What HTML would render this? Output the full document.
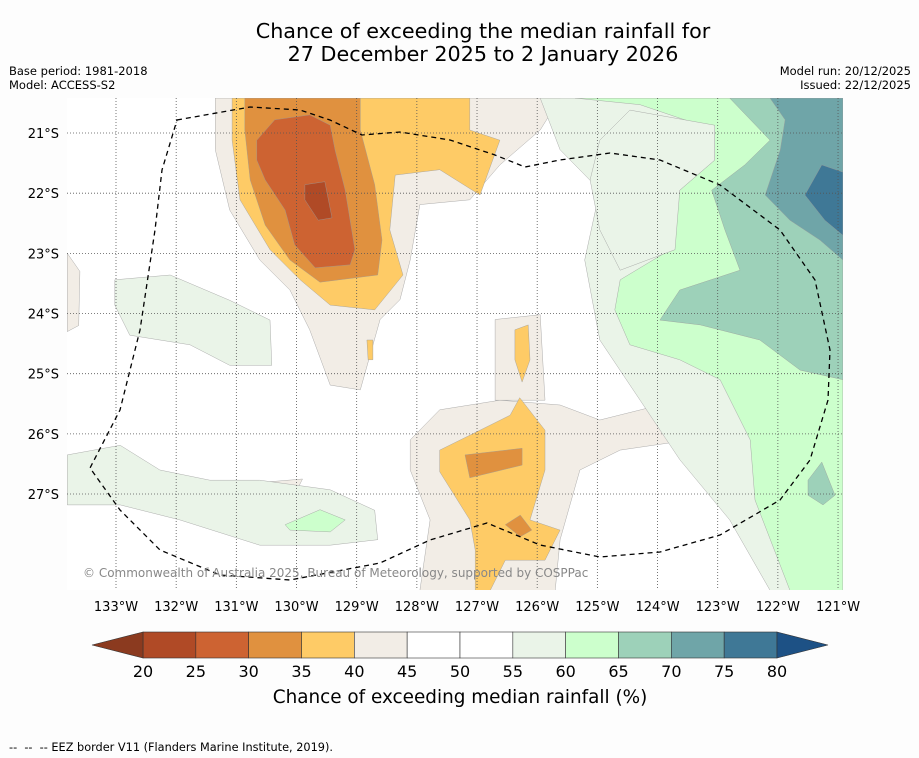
<!DOCTYPE html>
<html><head><meta charset="utf-8">
<style>
body{margin:0;background:#fdfdfd;font-family:"DejaVu Sans","Liberation Sans",sans-serif;}
svg{display:block}
</style></head>
<body>
<svg id="chart" width="919" height="758" xmlns="http://www.w3.org/2000/svg" style="font-family:'DejaVu Sans','Liberation Sans',sans-serif">
<rect width="919" height="758" fill="#fdfdfd"/>
<text x="483" y="38" font-size="20.7" text-anchor="middle" fill="#000">Chance of exceeding the median rainfall for</text>
<text x="483" y="61" font-size="20.7" text-anchor="middle" fill="#000">27 December 2025 to 2 January 2026</text>
<text x="9" y="75" font-size="11.5">Base period: 1981-2018</text>
<text x="9" y="89" font-size="11.5">Model: ACCESS-S2</text>
<text x="911" y="75" font-size="11.5" text-anchor="end">Model run: 20/12/2025</text>
<text x="911" y="89" font-size="11.5" text-anchor="end">Issued: 22/12/2025</text>
<defs><clipPath id="mapclip"><rect x="67" y="98" width="776" height="492"/></clipPath></defs>
<rect x="67" y="98" width="776" height="492" fill="#fff"/>
<g id="fills" clip-path="url(#mapclip)"></g>
<g id="grid"></g>
<path id="eez" fill="none" stroke="#000" stroke-width="1.3" stroke-dasharray="5,4" clip-path="url(#mapclip)"
 d="M177,120 L250,107 L300,110 L330,120 L362,135 L400,132 L450,140 L495,155 L525,167 L560,160 L610,153 L660,160 L720,185 L780,230 L815,280 L830,350 L828,400 L810,460 L780,500 L720,535 L660,552 L600,557 L540,545 L487,523 L430,540 L380,563 L290,580 L220,575 L160,550 L120,510 L90,468 L120,410 L140,330 L155,230 L162,170 Z"/>
<text x="83" y="577" font-size="12" fill="#888">© Commonwealth of Australia 2025, Bureau of Meteorology, supported by COSPPac</text>
<g id="axes"></g>
<g id="colorbar"></g>
<text x="460" y="703" font-size="18.4" text-anchor="middle">Chance of exceeding median rainfall (%)</text>
<text x="9" y="751" font-size="11.3">--&#160;&#160;--&#160;&#160;--&#160;EEZ border V11 (Flanders Marine Institute, 2019).</text>
</svg>
<script>
const lonTicks=[133,132,131,130,129,128,127,126,125,124,123,122,121];
const latTicks=[21,22,23,24,25,26,27];
const levels=[20,25,30,35,40,45,50,55,60,65,70,75,80];
const levelColors=["#b04a26","#cd6332","#e0913f","#fecb66","#f2ede6","#ffffff","#ffffff","#eaf4e8","#ccffcc","#9dd1b9","#6fa5a8","#3f7896"];
const NS="http://www.w3.org/2000/svg";
function xLon(lon){return 116+(133-lon)*60.17;}
function yLat(lat){return 133+(lat-21)*60.17;}
const bandLevel=[
[4,[131.35,20.42,125.62,20.42,125.95,20.95,126.62,21.53,127.12,22.11,127.95,22.19,128.11,23.11,128.28,23.77,128.61,24.10,128.94,25.27,129.44,25.19,129.78,24.27,130.11,23.61,130.61,23.11,131.11,22.28,131.35,21.28]],
[4,[128.11,26.10,127.62,25.60,126.62,25.44,125.62,25.52,124.96,25.77,123.96,25.52,123.38,25.69,123.46,26.10,124.62,26.27,125.29,26.60,125.62,27.76,125.70,28.60,127.95,28.60,127.78,27.43,128.11,26.60]],
[4,[126.70,24.10,125.95,24.02,125.87,25.44,126.70,25.44]],
[4,[133.81,23.0,133.6,23.3,133.62,24.2,133.81,24.3]],
[4,[130.5,26.8,129.9,26.75,130.0,26.95,130.6,26.95]],
[7,[125.95,20.42,120.92,20.42,120.92,28.60,122.13,28.60,122.80,27.43,123.63,26.43,124.29,25.44,124.96,24.44,125.21,23.11,124.96,21.95,125.62,21.28]],
[7,[133.02,23.44,132.10,23.36,131.11,23.78,130.44,24.11,130.41,24.86,131.11,24.86,131.77,24.52,132.77,24.36,133.02,23.86]],
[7,[133.81,26.35,132.93,26.19,132.27,26.60,131.44,26.77,130.61,26.77,129.44,26.93,128.70,27.27,128.65,27.76,129.44,27.85,130.61,27.85,131.94,27.43,132.93,27.18,133.81,27.18]],
[8,[125.37,20.42,122.80,20.42,122.05,21.12,120.92,21.45,120.92,28.60,121.80,28.60,122.38,27.10,122.46,26.10,122.96,25.10,123.63,24.77,124.46,24.52,124.71,23.94,124.62,23.44,123.79,22.94,123.63,21.95,123.05,21.45,123.05,20.95,124.29,20.53]],
[7,[124.46,20.62,123.05,20.87,123.05,21.45,123.63,21.95,123.71,22.94,124.62,23.28,124.96,22.61,125.12,21.78,124.96,21.12]],
[8,[130.19,27.51,129.61,27.26,129.19,27.43,129.44,27.63,130.11,27.60]],
[9,[122.80,20.42,120.92,20.42,120.92,25.10,121.63,24.94,122.30,24.44,123.29,24.19,123.96,24.11,123.63,23.61,122.63,23.28,122.88,22.61,123.10,21.95,122.55,21.53,122.13,21.12]],
[9,[121.50,26.77,121.27,26.47,121.05,27.02,121.25,27.18,121.50,27.02]],
[10,[122.13,20.42,120.92,20.42,120.92,23.11,121.30,22.78,121.80,22.45,122.21,22.03,121.96,21.28,121.88,20.78]],
[11,[121.55,22.03,121.27,21.53,120.92,21.65,120.92,22.70,121.22,22.45]],
[3,[131.07,20.42,127.12,20.42,127.12,20.95,126.62,21.12,126.95,22.03,127.62,21.61,128.36,21.70,128.45,22.61,128.23,23.36,128.70,23.94,129.44,23.86,129.94,23.44,130.44,22.94,130.94,22.11,131.07,21.12]],
[3,[127.62,26.27,126.95,25.94,126.45,25.69,126.29,25.40,125.87,25.94,125.87,26.60,126.12,27.43,125.62,27.60,125.87,28.10,126.53,28.10,126.78,28.60,127.03,28.60,127.03,27.93,127.12,27.43,127.62,26.63]],
[3,[126.37,24.27,126.15,24.19,126.12,24.77,126.25,25.14,126.37,24.77]],
[3,[128.83,24.44,128.73,24.44,128.73,24.77,128.81,24.77]],
[2,[130.86,20.42,128.94,20.42,128.94,20.95,128.70,21.86,128.58,22.78,128.65,23.36,129.61,23.48,130.11,23.11,130.52,22.53,130.77,21.78,130.86,20.95]],
[2,[127.20,26.35,126.25,26.24,126.25,26.52,127.12,26.73]],
[2,[126.53,27.51,126.28,27.35,126.09,27.60,126.28,27.71]],
[1,[130.66,21.12,130.36,20.78,129.78,20.70,129.44,20.87,129.36,21.28,129.19,21.95,129.03,22.94,129.11,23.19,129.69,23.24,130.03,22.86,130.19,22.28,130.52,21.78,130.66,21.45]],
[0,[129.86,21.86,129.53,21.81,129.41,22.41,129.64,22.45,129.86,22.11]]
];
const fills=document.getElementById('fills');
bandLevel.forEach(function(p){
  const pts=[];for(let i=0;i<p[1].length;i+=2)pts.push(xLon(p[1][i]).toFixed(1)+','+yLat(p[1][i+1]).toFixed(1));
  const el=document.createElementNS(NS,'polygon');
  el.setAttribute('points',pts.join(' '));
  el.setAttribute('fill',levelColors[p[0]]);
  el.setAttribute('stroke','#999');el.setAttribute('stroke-width','0.4');
  
  
  fills.appendChild(el);
});
const grid=document.getElementById('grid'),axes=document.getElementById('axes');
lonTicks.forEach(function(l){
  const x=xLon(l);
  const g=document.createElementNS(NS,'line');
  g.setAttribute('x1',x);g.setAttribute('x2',x);g.setAttribute('y1',98);g.setAttribute('y2',590);
  g.setAttribute('stroke','#555');g.setAttribute('stroke-width','0.8');g.setAttribute('stroke-dasharray','1,2');
  
  
  grid.appendChild(g);
  const t=document.createElementNS(NS,'text');
  t.setAttribute('x',x);t.setAttribute('y',611);t.setAttribute('font-size','13');t.setAttribute('text-anchor','middle');
  t.textContent=l+'°W';
  
  
  axes.appendChild(t);
});
latTicks.forEach(function(l){
  const y=yLat(l);
  const g=document.createElementNS(NS,'line');
  g.setAttribute('x1',67);g.setAttribute('x2',843);g.setAttribute('y1',y);g.setAttribute('y2',y);
  g.setAttribute('stroke','#555');g.setAttribute('stroke-width','0.8');g.setAttribute('stroke-dasharray','1,2');
  
  
  grid.appendChild(g);
  const t=document.createElementNS(NS,'text');
  t.setAttribute('x',59);t.setAttribute('y',y+5);t.setAttribute('font-size','13');t.setAttribute('text-anchor','end');
  t.textContent=l+'°S';
  
  
  axes.appendChild(t);
});
const cb=document.getElementById('colorbar');
function xCb(v){return 143+(v-20)*(777-143)/60;}
levelColors.forEach(function(c,i){
  const r=document.createElementNS(NS,'rect');
  r.setAttribute('x',xCb(levels[i]));r.setAttribute('y',632);r.setAttribute('width',xCb(levels[i+1])-xCb(levels[i]));r.setAttribute('height',26);
  r.setAttribute('fill',c);r.setAttribute('stroke','#333');r.setAttribute('stroke-width','0.6');
  
  
  cb.appendChild(r);
});
[[xCb(20),92,'#8b3a1f','colorbar-under-arrow'],[xCb(80),828,'#1d5185','colorbar-over-arrow']].forEach(function(a){
  const p=document.createElementNS(NS,'polygon');
  p.setAttribute('points',a[0]+',632 '+a[1]+',645 '+a[0]+',658');
  p.setAttribute('fill',a[2]);p.setAttribute('stroke','#333');p.setAttribute('stroke-width','0.6');
  
  
  cb.appendChild(p);
});
levels.forEach(function(v){
  const t=document.createElementNS(NS,'text');
  t.setAttribute('x',xCb(v));t.setAttribute('y',677);t.setAttribute('font-size','16');t.setAttribute('text-anchor','middle');
  t.textContent=v;
  
  
  cb.appendChild(t);
});
</script>
</body></html>
